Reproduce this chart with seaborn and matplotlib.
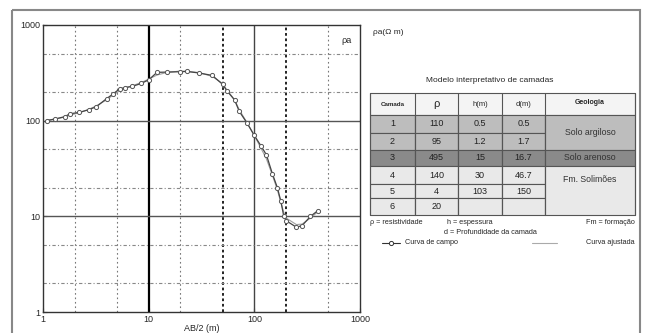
import matplotlib
matplotlib.use("Agg")
import matplotlib.pyplot as plt
import seaborn as sns
import pandas as pd
from matplotlib.patches import Rectangle
from matplotlib.ticker import LogLocator, NullFormatter, FixedFormatter, FixedLocator

# dados da curva de campo (AB/2 em m, resistividade aparente em ohm.m)
ab2 = [1.08, 1.3, 1.6, 1.8, 2.2, 2.7, 3.2, 4.0, 4.6, 5.3, 6.0, 7.0, 8.5, 10,
       12, 15, 20, 23, 30, 40, 50, 55, 65, 72, 85, 100, 115, 130, 148, 165,
       178, 190, 200, 250, 283, 340, 400]
rho_campo = [100, 104, 110, 118, 122, 130, 140, 170, 190, 215, 222, 228, 245, 267,
             320, 322, 325, 327, 315, 297, 240, 205, 165, 125, 95, 70, 55, 44, 28, 20,
             14.5, 10, 9, 7.7, 8, 10, 11.5]
rho_ajust = [101, 104, 109, 114, 121, 131, 143, 165, 185, 205, 220, 232, 250, 272,
             300, 320, 330, 328, 318, 290, 245, 210, 165, 130, 96, 70, 52, 40, 27, 19,
             14, 11, 9.6, 8.2, 8.3, 9.6, 11.2]

# tabela do modelo
camada = ['1', '2', '3', '4', '5', '6']
rho_cam = ['110', '95', '495', '140', '4', '20']
h_cam = ['0.5', '1.2', '15', '30', '103', '']
d_cam = ['0.5', '1.7', '16.7', '46.7', '150', '']
geologia = ['Solo argiloso', 'Solo arenoso', 'Fm. Solimões']

sns.set_style("white")
plt.rcParams['font.family'] = ['Liberation Sans', 'DejaVu Sans']

W, H = 647, 333
fig = plt.figure(figsize=(W / 100, H / 100), dpi=100)

ax = fig.add_axes([43 / W, 1 - 312 / H, 317 / W, (312 - 25) / H])
df = pd.DataFrame({'x': ab2, 'campo': rho_campo, 'ajust': rho_ajust})
sns.lineplot(data=df, x='x', y='ajust', ax=ax, color='#a0a0a0', lw=0.8, zorder=3)
sns.lineplot(data=df, x='x', y='campo', ax=ax, color='#444444', lw=0.9, marker='o',
             markersize=3, markerfacecolor='white', markeredgecolor='#555555',
             markeredgewidth=0.7, zorder=4)
ax.set_xscale('log')
ax.set_yscale('log')
ax.set_xlim(1, 1000)
ax.set_ylim(1, 1000)

# grade
for v in [2, 5, 20, 500]:
    ax.axvline(v, color='#777777', ls=(0, (1.5, 2.5)), lw=0.8)
for v in [50, 200]:
    ax.axvline(v, color='#111111', ls=(0, (1.5, 1.5)), lw=1.3)
ax.axvline(10, color='black', lw=1.6)
ax.axvline(100, color='#444444', lw=1.0)
for v in [2, 5, 20, 50, 200, 500]:
    ax.axhline(v, color='#888888', ls=(0, (3, 2, 1, 2)), lw=0.8)
for v in [10, 100]:
    ax.axhline(v, color='#555555', lw=1.0)

ax.xaxis.set_major_locator(FixedLocator([1, 10, 100, 1000]))
ax.xaxis.set_major_formatter(FixedFormatter(['1', '10', '100', '1000']))
ax.yaxis.set_major_locator(FixedLocator([1, 10, 100, 1000]))
ax.yaxis.set_major_formatter(FixedFormatter(['1', '10', '100', '1000']))
ax.xaxis.set_minor_locator(LogLocator(base=10, subs=range(2, 10)))
ax.yaxis.set_minor_locator(LogLocator(base=10, subs=range(2, 10)))
ax.xaxis.set_minor_formatter(NullFormatter())
ax.yaxis.set_minor_formatter(NullFormatter())
ax.tick_params(axis='both', which='major', labelsize=6.5, length=3, direction='in', pad=2)
ax.tick_params(axis='both', which='minor', length=2, direction='in')
ax.tick_params(left=True, bottom=True)
ax.set_xlabel('AB/2 (m)', fontsize=6.5, labelpad=0)
ax.set_ylabel('')
for s in ax.spines.values():
    s.set_color('#333333')
    s.set_linewidth(1.0)
ax.text(0.975, 0.96, 'ρa', transform=ax.transAxes, fontsize=6.5, ha='right', va='top')

# tabela desenhada em eixos proprios (coordenadas em pixels)
tab = fig.add_axes([0, 0, 1, 1], facecolor='none')
tab.set_xlim(0, W)
tab.set_ylim(H, 0)
tab.axis('off')

tab.text(373, 33, 'ρa(Ω m)', fontsize=6, va='center', ha='left')
tab.text(490, 80, 'Modelo interpretativo de camadas', fontsize=6, va='center', ha='center')

cols = [370, 415, 458, 502, 545, 635]
rows = [93, 115, 133, 150, 166, 184, 198, 215]
row_colors = ['#bdbdbd', '#bdbdbd', '#8a8a8a', '#e9e9e9', '#e9e9e9', '#e9e9e9']

tab.add_patch(Rectangle((cols[0], rows[0]), cols[-1] - cols[0], rows[1] - rows[0],
                        fc='#f4f4f4', ec='#555555', lw=0.8))
headers = ['Camada', 'ρ', 'h(m)', 'd(m)', 'Geologia']
hsizes = [4.5, 8, 5.5, 5.5, 5]
for i, t in enumerate(headers):
    tab.text((cols[i] + cols[i + 1]) / 2, (rows[0] + rows[1]) / 2 - (2 if i == 4 else 0), t,
             fontsize=hsizes[i], ha='center', va='center',
             fontweight='bold' if i in (0, 4) else 'normal')

for r in range(6):
    y0, y1 = rows[r + 1], rows[r + 2]
    vals = [camada[r], rho_cam[r], h_cam[r], d_cam[r]]
    for c in range(4):
        tab.add_patch(Rectangle((cols[c], y0), cols[c + 1] - cols[c], y1 - y0,
                                fc=row_colors[r], ec='#555555', lw=0.8))
        tab.text((cols[c] + cols[c + 1]) / 2, (y0 + y1) / 2, vals[c], fontsize=6.5,
                 ha='center', va='center', color='#222222')

geo_spans = [(0, 2, '#bdbdbd'), (2, 3, '#8a8a8a'), (3, 6, '#e9e9e9')]
for (a, b, col), nome in zip(geo_spans, geologia):
    y0, y1 = rows[a + 1], rows[b + 1]
    tab.add_patch(Rectangle((cols[4], y0), cols[5] - cols[4], y1 - y0,
                            fc=col, ec='#555555', lw=0.8))
    yc = (y0 + y1) / 2 if nome != 'Fm. Solimões' else y0 + 14
    tab.text((cols[4] + cols[5]) / 2, yc, nome, fontsize=6.3, ha='center', va='center',
             color='#333333')
for c in cols:
    tab.plot([c, c], [rows[0], rows[-1]], color='#555555', lw=0.8)

# legenda de texto
tab.text(370, 223, 'ρ = resistividade', fontsize=5.2, va='center', ha='left')
tab.text(447, 223, 'h = espessura', fontsize=5.2, va='center', ha='left')
tab.text(635, 223, 'Fm = formação', fontsize=5.2, va='center', ha='right')
tab.text(490, 233, 'd = Profundidade da camada', fontsize=5.2, va='center', ha='center')
tab.plot([382, 400], [243, 243], color='#333333', lw=0.8)
tab.plot([391], [243], marker='o', ms=3, mfc='white', mec='#333333', mew=0.7)
tab.text(405, 243, 'Curva de campo', fontsize=5.2, va='center', ha='left')
tab.plot([532, 557], [243, 243], color='#aaaaaa', lw=0.8)
tab.text(635, 243, 'Curva ajustada', fontsize=5.2, va='center', ha='right')

# moldura externa
tab.add_patch(Rectangle((12, 10), 628, 340, fill=False, ec='#888888', lw=1.5, clip_on=False))

fig.savefig('out.png', dpi=100, facecolor='white')
